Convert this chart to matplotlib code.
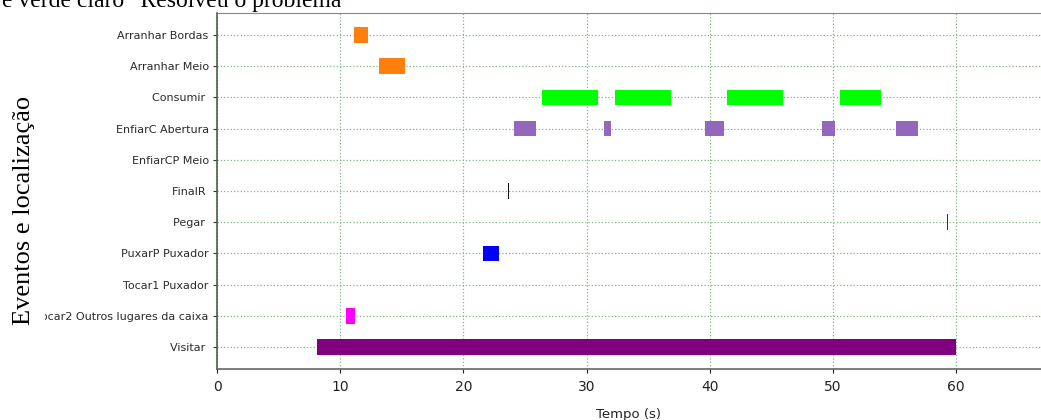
import matplotlib
matplotlib.use("Agg")
import matplotlib.pyplot as plt
from matplotlib.patches import Rectangle

# row labels, top to bottom
events = [
    "Arranhar Bordas",
    "Arranhar Meio",
    "Consumir ",
    "EnfiarC Abertura",
    "EnfiarCP Meio",
    "FinalR ",
    "Pegar ",
    "PuxarP Puxador",
    "Tocar1 Puxador",
    "Tocar2 Outros lugares da caixa",
    "Visitar ",
]

# (start, duration) in seconds for each row
arranhar_bordas = [(11.1, 1.15)]
arranhar_meio = [(13.15, 2.15)]
consumir = [(26.4, 4.55), (32.35, 4.55), (41.4, 4.55), (50.6, 3.3)]
enfiarc_abertura = [(24.1, 1.8), (31.4, 0.6), (39.6, 1.6), (49.1, 1.1), (55.15, 1.8)]
enfiarcp_meio = []
finalr = [(23.62, 0.08)]
pegar = [(59.3, 0.08)]
puxarp_puxador = [(21.6, 1.3)]
tocar1_puxador = []
tocar2_outros = [(10.45, 0.75)]
visitar = [(8.15, 51.85)]

series = [arranhar_bordas, arranhar_meio, consumir, enfiarc_abertura, enfiarcp_meio,
          finalr, pegar, puxarp_puxador, tocar1_puxador, tocar2_outros, visitar]
colors = ["#ff7f0e", "#ff7f0e", "#00ff00", "#9467bd", "#9467bd",
          "#111111", "#333333", "#0000ff", "#0000ff", "#ff00ff", "#800080"]

fig = plt.figure(figsize=(10.41, 4.2), dpi=100)
ax = fig.add_axes([217 / 1041, 51 / 420, 1 - 217 / 1041, 356 / 420])

n = len(events)
for i, (spans, col) in enumerate(zip(series, colors)):
    y = n - 1 - i
    if spans:
        ax.broken_barh(spans, (y - 0.25, 0.5), facecolors=col, edgecolor="none", zorder=3)

ax.set_yticks(range(n))
ax.set_yticklabels(events[::-1], fontsize=8, color="#2a2a2a")
ax.set_ylim(-0.7, n - 0.3)
ax.set_xlim(0, 66.9)
ax.set_xticks([0, 10, 20, 30, 40, 50, 60])
ax.tick_params(axis="x", labelsize=10, length=3, width=0.8, pad=5, colors="#222222")
ax.tick_params(axis="y", length=3, width=0.8, pad=3, colors="#333333")
for lbl in ax.get_yticklabels():
    lbl.set_color("#2a2a2a")

ax.grid(True, color="#7fb87f", linestyle=":", linewidth=0.9, zorder=0)
ax.set_axisbelow(True)

ax.spines["right"].set_visible(False)
ax.spines["top"].set_color("#888888")
ax.spines["left"].set_color("#4a5f4a")
ax.spines["bottom"].set_color("#666666")
ax.spines["left"].set_linewidth(1.2)
ax.spines["bottom"].set_linewidth(1.2)

ax.set_xlabel("Tempo (s)", fontsize=9.5, color="#222222", labelpad=10)

# the chart image is cropped at the left edge of the page
cover = Rectangle((0, 0), 45 / 1041, 1 - 20 / 420, transform=fig.transFigure,
                  facecolor="white", edgecolor="none", zorder=5)
fig.patches.append(cover)

fig.text(24 / 1041, 1 - 210 / 420, "Eventos e localização", rotation=90,
         fontsize=19, family="Liberation Serif", ha="center", va="center", zorder=6)
fig.text(2 / 1041, 1 - 7 / 420, "e verde claro \u201cResolveu o problema\u201d",
         fontsize=17, family="Liberation Serif", ha="left", va="baseline", zorder=6)

fig.savefig("out.png", dpi=100)
